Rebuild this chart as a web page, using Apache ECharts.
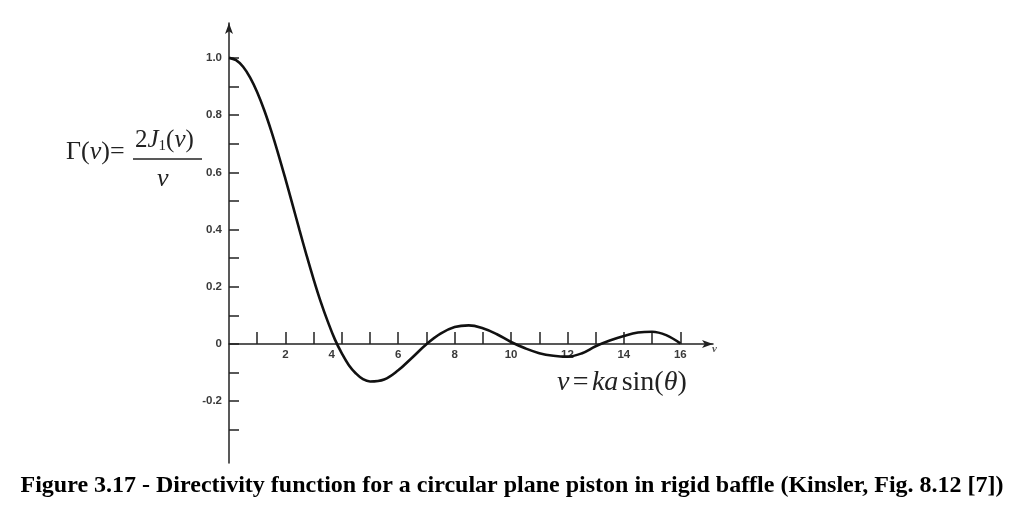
<!DOCTYPE html>
<html><head><meta charset="utf-8">
<script src="https://cdn.jsdelivr.net/npm/echarts@6/dist/echarts.min.js"></script>
<style>html,body{margin:0;padding:0;background:#fff}#c{width:1024px;height:519px}</style>
</head><body><div id="c"></div>
<script>
// v values (x) and Γ(v) values
const vValues = [0,0.25,0.5,0.75,1,1.25,1.5,1.75,2,2.25,2.5,2.75,3,3.25,3.5,3.75,4,4.25,4.5,4.75,5,5.5,6,6.5,7,7.5,8,8.5,9,9.5,10,10.5,11,11.5,12,12.5,13,13.5,14,14.5,15,15.5,16];
const gammaValues = [1.0,0.992,0.969,0.931,0.880,0.817,0.744,0.663,0.577,0.488,0.398,0.310,0.226,0.148,0.079,0.017,-0.033,-0.074,-0.103,-0.123,-0.131,-0.124,-0.092,-0.047,-0.001,0.036,0.059,0.065,0.055,0.034,0.007,-0.015,-0.032,-0.041,-0.044,-0.033,-0.008,0.012,0.028,0.040,0.043,0.031,0.002];
const xTickValues = [1,2,3,4,5,6,7,8,9,10,11,12,13,14,15,16];
const xLabelValues = [2,4,6,8,10,12,14,16];
const yTickValues = [-0.3,-0.2,-0.1,0,0.1,0.2,0.3,0.4,0.5,0.6,0.7,0.8,0.9,1.0];
const yLabelValues = [-0.2,0,0.2,0.4,0.6,0.8,1.0];
const captionText = 'Figure 3.17 - Directivity function for a circular plane piston in rigid baffle (Kinsler, Fig. 8.12 [7])';

const chart = echarts.init(document.getElementById('c'));
const axisColor = '#222';
const labelStyle = {color:'#3a3a3a', fontSize:11.5, fontFamily:'Liberation Sans, Arial, sans-serif', fontWeight:'bold'};
chart.setOption({
  animation:false,
  backgroundColor:'#fff',
  grid:{left:229, right:311, top:23, bottom:56},
  xAxis:{
    type:'value', min:0, max:17.16, position:'bottom', offset:-119,
    axisLine:{onZero:false, lineStyle:{color:axisColor, width:1.5}, symbol:['none','arrow'], symbolSize:[6,11]},
    axisTick:{show:true, inside:true, length:12, customValues:xTickValues, lineStyle:{color:axisColor, width:1.5}},
    axisLabel:Object.assign({}, labelStyle, {
      customValues:xLabelValues, margin:5,
      formatter:function(v){ return v===4 ? '{s|4}' : String(v); },
      rich:{s:Object.assign({}, labelStyle, {padding:[0,20,0,0]})}
    }),
    splitLine:{show:false}
  },
  yAxis:{
    type:'value', min:-0.416, max:1.122,
    axisLine:{onZero:false, lineStyle:{color:axisColor, width:1.5}, symbol:['none','arrow'], symbolSize:[6,11]},
    axisTick:{show:true, inside:true, length:10, customValues:yTickValues, lineStyle:{color:axisColor, width:1.5}},
    axisLabel:Object.assign({}, labelStyle, {
      customValues:yLabelValues, margin:7,
      formatter:function(v){ return Math.abs(v)<1e-9 ? '0' : v.toFixed(1); }
    }),
    splitLine:{show:false}
  },
  series:[{
    type:'line', smooth:0.4, symbol:'none',
    lineStyle:{color:'#111', width:2.6},
    data:vValues.map(function(v,i){ return [v, gammaValues[i]]; })
  }],
  graphic:[
    {type:'text', left:66, top:139, style:{
      text:'{n|Γ(}{i|ν}{n|)=}',
      rich:{
        n:{font:'26px "Liberation Serif", serif', fill:'#222'},
        i:{font:'italic 26px "Liberation Serif", serif', fill:'#222'}
      }}},
    {type:'text', left:135, top:128, style:{
      text:'{n|2}{i|J}{sub|1}{n|(}{i|ν}{n|)}',
      rich:{
        n:{font:'25px "Liberation Serif", serif', fill:'#222'},
        i:{font:'italic 25px "Liberation Serif", serif', fill:'#222'},
        sub:{font:'15px "Liberation Serif", serif', fill:'#222', padding:[11,0,0,0]}
      }}},
    {type:'line', shape:{x1:133, y1:159, x2:202, y2:159}, style:{stroke:'#222', lineWidth:1.3}},
    {type:'text', left:157, top:166, style:{text:'ν', font:'italic 26px "Liberation Serif", serif', fill:'#222'}},
    {type:'text', left:557, top:369, style:{
      text:'{i|ν} {n|=} {i|ka} {n|sin(}{i|θ}{n|)}',
      rich:{
        n:{font:'28px "Liberation Serif", serif', fill:'#222'},
        i:{font:'italic 28px "Liberation Serif", serif', fill:'#222'}
      }}},
    {type:'text', left:712, top:344, style:{text:'v', font:'italic bold 11px "Liberation Serif", serif', fill:'#555'}},
    {type:'text', left:'center', top:474, style:{text:captionText, font:'bold 24px "Liberation Serif", "Times New Roman", serif', fill:'#000'}}
  ]
});
</script>
</body></html>
